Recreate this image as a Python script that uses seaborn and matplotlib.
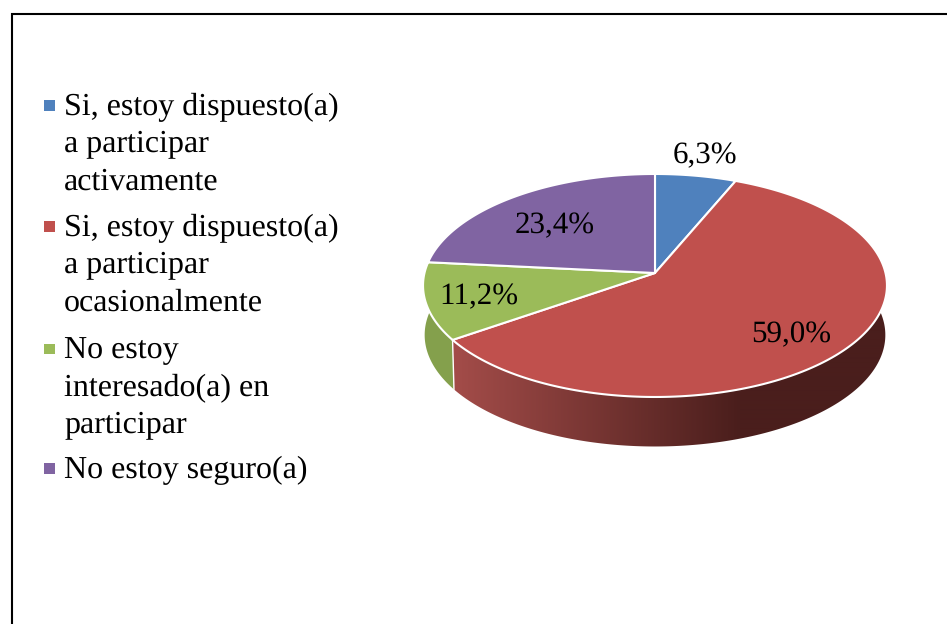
import numpy as np
import matplotlib
matplotlib.use('Agg')
import matplotlib.pyplot as plt
import seaborn as sns
from matplotlib.patches import Polygon, Rectangle

categories = ['Si, estoy dispuesto(a)\na participar\nactivamente',
              'Si, estoy dispuesto(a)\na participar\nocasionalmente',
              'No estoy\ninteresado(a) en\nparticipar',
              'No estoy seguro(a)']
values = [6.3, 59.0, 11.2, 23.4]
value_labels = ['6,3%', '59,0%', '11,2%', '23,4%']
colors = ['#4F81BD', '#C0504D', '#9BBB59', '#8064A2']

# pixel layout of the picture
label_xy = [(705, 163), (791, 342), (479, 304), (555, 233)]
legend_y = [115, 236, 358.5, 478]

sns.set_theme(style='white')
plt.rcParams['font.family'] = ['Liberation Serif']
plt.rcParams['text.hinting'] = 'no_hinting'
plt.rcParams['text.hinting_factor'] = 1

fig = plt.figure(figsize=(9.47, 6.24), dpi=100)
ax = fig.add_axes([0, 0, 1, 1])

# perspective view of the disc, t runs clockwise from 12 o'clock
cx, cy, rx, ry, k, depth, shrink = 655, 273, 230.5, 110.1, 0.112, 49.5, 0.993


def project(t):
    x = cx + rx * np.sin(t) / (1 + k * np.cos(t))
    y = cy - ry * np.cos(t) / (1 + k * np.cos(t))
    return x, y


def wall(i):
    t = np.linspace(edges[i], edges[i + 1], 300)
    x, y = project(t)
    low_x = cx + (x - cx) * shrink
    return np.c_[np.r_[x, low_x[::-1]], np.r_[y, (y + depth)[::-1]]]


edges = np.cumsum([0] + values) / sum(values) * 2 * np.pi

# side wall of the green slice
ax.add_patch(Polygon(wall(2), facecolor='#84A04C', edgecolor='none'))

# side wall of the red slice, horizontal gradient clipped to its outline
side_light = np.array(matplotlib.colors.to_rgb('#A34C49'))
side_dark = np.array(matplotlib.colors.to_rgb('#4A1E1C'))
f = np.clip((np.arange(420, 900) - 455) / (740 - 455), 0, 1)[None, :, None]
gradient = side_light * (1 - f) + side_dark * f
red_wall = Polygon(wall(1), facecolor='none', edgecolor='none')
ax.add_patch(red_wall)
img = ax.imshow(gradient, extent=(420, 900, 460, 160), aspect='auto', interpolation='bilinear')
img.set_clip_path(red_wall)

ax.set_xlim(0, 947)
ax.set_ylim(624, 0)
ax.axis('off')

# white seam between the two walls
sx, sy = project(edges[2])
ax.plot([sx, cx + (sx - cx) * shrink], [sy, sy + depth], color='white', lw=1.0)

# top face
for i, color in enumerate(colors):
    t = np.linspace(edges[i], edges[i + 1], 200)
    x, y = project(t)
    ax.fill(np.r_[cx, x], np.r_[cy, y], facecolor=color, edgecolor='white', lw=1.5, joinstyle='round')

for label, (lx, ly) in zip(value_labels, label_xy):
    ax.text(lx, ly, label, ha='center', va='baseline', fontsize=22.5, color='black')

# legend
for name, color, ly in zip(categories, colors, legend_y):
    ax.add_patch(Rectangle((44, ly - 15), 10.5, 10.5, facecolor=color, edgecolor='none'))
    for n, line in enumerate(name.split('\n')):
        ax.text(64, ly + n * 37.4, line, ha='left', va='baseline', fontsize=23.1, color='black')

# frame, open on the right and bottom
ax.plot([11.5, 11.5, 947], [624, 14, 14], color='black', lw=1.5, solid_joinstyle='miter')

fig.savefig('out.png', dpi=100)
